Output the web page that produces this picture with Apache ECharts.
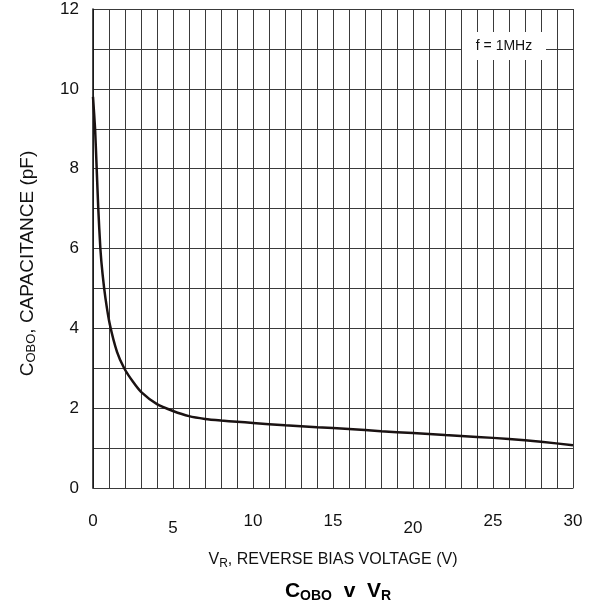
<!DOCTYPE html>
<html>
<head>
<meta charset="utf-8">
<script src="https://cdn.jsdelivr.net/npm/echarts@6/dist/echarts.min.js"></script>
<style>
  html, body { margin: 0; padding: 0; background: #fff; }
  #chart { width: 599px; height: 613px; }
</style>
</head>
<body>
<div id="chart"></div>
<script>
// reverse bias voltage (V) and output capacitance (pF)
var voltage = [0, 0.13, 0.23, 0.33, 0.46, 0.6, 0.78, 1.05, 1.5, 1.95, 2.5, 3, 4, 5, 6, 7, 8, 9, 10, 12, 14, 16, 18, 20, 22, 24, 26, 28, 30];
var cobo = [9.8, 9.0, 8.0, 7.0, 6.0, 5.35, 4.75, 4.1, 3.41, 3.0, 2.66, 2.41, 2.1, 1.93, 1.8, 1.73, 1.69, 1.66, 1.63, 1.57, 1.52, 1.48, 1.42, 1.38, 1.33, 1.28, 1.23, 1.16, 1.07];
var xTicks = [0, 5, 10, 15, 20, 25, 30];
var yTicks = [0, 2, 4, 6, 8, 10, 12];

var font = 'Liberation Sans, Arial, sans-serif';
var gridColor = '#3a3a3a';

var chart = echarts.init(document.getElementById('chart'));

var option = {
  animation: false,
  backgroundColor: '#fff',
  grid: { left: 93, right: 26, top: 9, bottom: 125 },
  title: {
    text: '{b|C}{s|OBO}{b|  v  V}{s|R}',
    left: 333,
    top: 574,
    textAlign: 'center',
    textStyle: {
      rich: {
        b: { fontFamily: font, fontSize: 21, fontWeight: 'bold', color: '#000' },
        s: { fontFamily: font, fontSize: 14, fontWeight: 'bold', color: '#000', padding: [10, 0, 0, 0] }
      }
    }
  },
  xAxis: {
    type: 'value',
    min: 0,
    max: 30,
    interval: 1,
    name: '{n|V}{s|R}{n|, REVERSE BIAS VOLTAGE (V)}',
    nameLocation: 'middle',
    nameGap: 62,
    nameTextStyle: {
      rich: {
        n: { fontFamily: font, fontSize: 16, color: '#111' },
        s: { fontFamily: font, fontSize: 12, color: '#111', padding: [8, 0, 0, 0] }
      }
    },
    axisLine: { show: true, lineStyle: { color: gridColor, width: 1 } },
    axisTick: { show: false },
    splitLine: { show: true, lineStyle: { color: gridColor, width: 1 } },
    axisLabel: {
      margin: 25,
      fontFamily: font,
      fontSize: 17,
      color: '#111',
      formatter: function (v) {
        if (xTicks.indexOf(v) < 0) return '';
        return (v === 5 || v === 20) ? '{low|' + v + '}' : String(v);
      },
      rich: {
        low: { fontFamily: font, fontSize: 17, color: '#111', padding: [7, 0, 0, 0] }
      }
    }
  },
  yAxis: {
    type: 'value',
    min: 0,
    max: 12,
    interval: 1,
    name: '{n|C}{s|OBO}{n|, CAPACITANCE (pF)}',
    nameLocation: 'middle',
    nameGap: 55,
    nameTextStyle: {
      padding: [0, 30, 0, 0],
      rich: {
        n: { fontFamily: font, fontSize: 19, color: '#111' },
        s: { fontFamily: font, fontSize: 13, color: '#111', padding: [8, 0, 0, 0] }
      }
    },
    axisLine: { show: true, lineStyle: { color: '#111', width: 1.5 } },
    axisTick: { show: false },
    splitLine: { show: true, lineStyle: { color: gridColor, width: 1 } },
    axisLabel: {
      margin: 14,
      fontFamily: font,
      fontSize: 17,
      color: '#111',
      padding: [6, 0, 0, 0],
      formatter: function (v) {
        return yTicks.indexOf(v) >= 0 ? String(v) : '';
      }
    }
  },
  graphic: [
    {
      type: 'rect',
      z: 100,
      shape: { x: 462, y: 32, width: 84, height: 28 },
      style: { fill: '#fff' }
    },
    {
      type: 'text',
      z: 101,
      x: 504,
      y: 46,
      style: {
        text: 'f = 1MHz',
        fontFamily: font,
        fontSize: 14,
        fill: '#111',
        align: 'center',
        verticalAlign: 'middle'
      }
    }
  ],
  series: [{
    type: 'line',
    data: voltage.map(function (v, i) { return [v, cobo[i]]; }),
    showSymbol: false,
    smooth: 0.2,
    lineStyle: { color: '#1a1212', width: 2.5 },
    z: 5
  }]
};

chart.setOption(option);
</script>
</body>
</html>
